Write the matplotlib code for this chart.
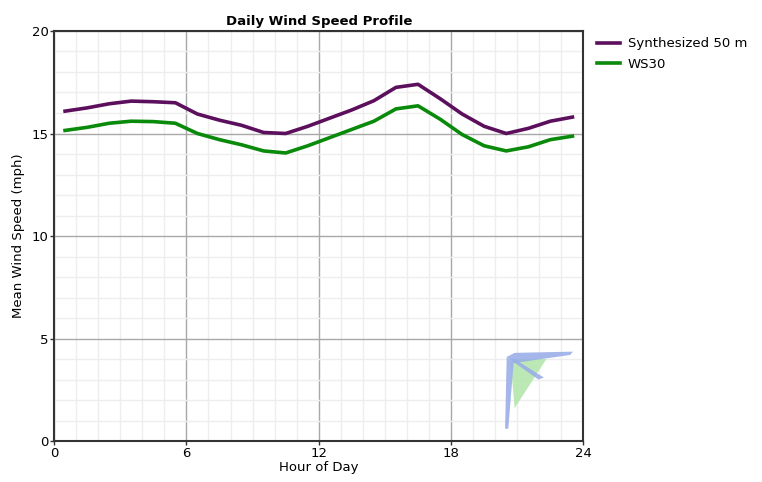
import matplotlib

matplotlib.use("Agg")
import matplotlib.pyplot as plt
from matplotlib.patches import Polygon
import numpy as np

# hourly means, plotted at the middle of each hour
hours = [0.5, 1.5, 2.5, 3.5, 4.5, 5.5, 6.5, 7.5, 8.5, 9.5, 10.5, 11.5,
         12.5, 13.5, 14.5, 15.5, 16.5, 17.5, 18.5, 19.5, 20.5, 21.5, 22.5, 23.5]
synth_50m = [16.09, 16.25, 16.45, 16.58, 16.55, 16.5, 15.95, 15.65, 15.4, 15.05, 15.0, 15.35,
             15.75, 16.15, 16.6, 17.25, 17.4, 16.7, 15.95, 15.35, 15.0, 15.25, 15.6, 15.8]
ws30 = [15.15, 15.3, 15.5, 15.6, 15.58, 15.5, 15.0, 14.7, 14.45, 14.15, 14.05, 14.4,
        14.8, 15.2, 15.6, 16.2, 16.35, 15.7, 14.95, 14.4, 14.15, 14.35, 14.7, 14.87]
x_ticks = [0, 6, 12, 18, 24]
y_ticks = [0, 5, 10, 15, 20]

plt.rcParams["font.family"] = ["DejaVu Sans"]

fig = plt.figure(figsize=(7.62, 4.82), dpi=100)
ax = fig.add_axes([0.0709, 0.085, 0.6948, 0.8507])

ax.set_xlim(0, 24)
ax.set_ylim(0, 20)
ax.set_xticks(x_ticks)
ax.set_yticks(y_ticks)
ax.set_xticks(np.arange(0, 25, 1), minor=True)
ax.set_yticks(np.arange(0, 21, 1), minor=True)
ax.grid(True, which="minor", color="#eeeeee", linewidth=1.0)
ax.grid(True, which="major", color="#a8a8a8", linewidth=1.0)
ax.set_axisbelow(True)
ax.tick_params(which="minor", length=0)
ax.tick_params(which="major", length=3, width=1, color="#333333", labelsize=9.5, pad=1)

for side in ["left", "bottom", "top", "right"]:
    ax.spines[side].set_color("#333333")
    ax.spines[side].set_linewidth(1.5)

# faint kite watermark in the lower right corner
tf = ax.transAxes
ax.add_patch(Polygon([(0.862, 0.2), (0.93, 0.2), (0.87, 0.08)], closed=True, transform=tf,
                     facecolor="#b5e6ad", edgecolor="none", alpha=0.9))
ax.add_patch(Polygon([(0.855, 0.205), (0.87, 0.215), (0.98, 0.218), (0.975, 0.21), (0.868, 0.19)],
                     closed=True, transform=tf, facecolor="#9aaee8", edgecolor="none", alpha=0.9))
ax.add_patch(Polygon([(0.855, 0.205), (0.852, 0.03), (0.858, 0.03), (0.868, 0.19)],
                     closed=True, transform=tf, facecolor="#9aaee8", edgecolor="none", alpha=0.9))
ax.add_patch(Polygon([(0.86, 0.2), (0.915, 0.15), (0.925, 0.155), (0.87, 0.2)],
                     closed=True, transform=tf, facecolor="#9aaee8", edgecolor="none", alpha=0.9))

ax.plot(hours, synth_50m, color="#5c0f5c", linewidth=2.6, label="Synthesized 50 m", zorder=3)
ax.plot(hours, ws30, color="#0a8a0a", linewidth=2.6, label="WS30", zorder=3)

ax.set_title("Daily Wind Speed Profile", fontsize=9.5, fontweight="bold", pad=4)
ax.set_xlabel("Hour of Day", fontsize=9.5, labelpad=1)
ax.set_ylabel("Mean Wind Speed (mph)", fontsize=9.5, labelpad=5)

ax.legend(loc="upper left", bbox_to_anchor=(1.026, 0.985), frameon=False, fontsize=9.5,
          handlelength=1.7, handletextpad=0.6, labelspacing=0.6, borderaxespad=0, borderpad=0)

fig.savefig("out.png", dpi=100)
